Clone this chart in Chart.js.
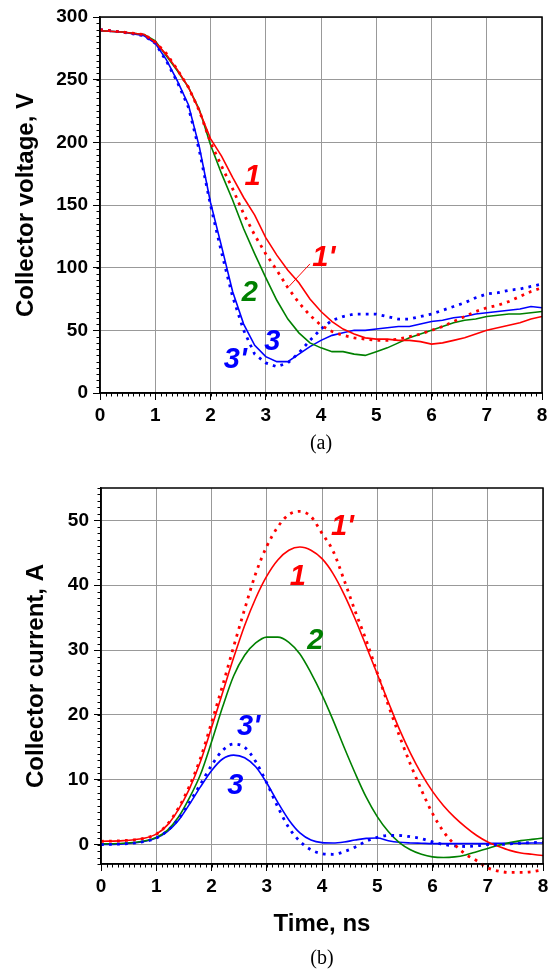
<!DOCTYPE html>
<html>
<head>
<meta charset="utf-8">
<title>Collector voltage and current</title>
<script src="https://cdn.jsdelivr.net/npm/chart.js@4.4.1/dist/chart.umd.min.js"></script>
<style>
    html, body { margin: 0; padding: 0; background: #fff; }
    #wrap { position: relative; width: 554px; height: 971px; }
    #voltChart { position: absolute; left: 0; top: 0; }
    #currChart { position: absolute; left: 0; top: 460px; }
</style>
</head>
<body>
<div id="wrap">
    <canvas id="voltChart" width="554" height="460"></canvas>
    <canvas id="currChart" width="554" height="511"></canvas>
</div>
<script>
/* =========================================================
   DATA  (time in ns, voltage in V, current in A)
========================================================= */
const timeNs = [0, 0.4, 0.8, 1.0, 1.2, 1.4, 1.6, 1.8, 2.0, 2.2, 2.4, 2.6, 2.8, 3.0,
    3.2, 3.4, 3.6, 3.8, 4.0, 4.2, 4.4, 4.6, 4.8, 5.0, 5.2, 5.4, 5.6, 5.8, 6.0,
    6.2, 6.4, 6.6, 6.8, 7.0, 7.2, 7.4, 7.6, 7.8, 8.0];

// collector voltage, panel (a)
const volt1  = [289, 288, 286, 280, 270, 258, 244, 225, 203, 189, 172, 156, 142, 124,
    110, 98, 88, 75, 65, 57, 51, 47, 44, 43, 43, 42, 42, 41, 39,
    40, 42, 44, 47, 50, 52, 54, 56, 59, 61];
const volt1p = [290, 288, 286, 280, 271, 258, 244, 225, 200, 181, 163, 143, 126, 111,
    98, 84, 72, 62, 54, 49, 46, 44, 43, 42, 42, 43, 45, 47, 50,
    53, 57, 61, 65, 68, 70, 73, 77, 81, 84];
const volt2  = [289, 288, 286, 281, 269, 257, 244, 226, 198, 175, 154, 131, 111, 92,
    74, 59, 48, 40, 36, 33, 33, 31, 30, 33, 36, 40, 44, 47, 50,
    53, 56, 58, 59, 61, 62, 63, 63, 64, 65];
const volt3  = [289, 288, 285, 279, 266, 249, 230, 196, 152, 117, 81, 55, 38, 29,
    25, 25, 31, 37, 42, 46, 48, 50, 50, 51, 52, 53, 53, 55, 57,
    58, 60, 61, 63, 64, 65, 66, 67, 69, 68];
const volt3p = [290, 288, 285, 279, 265, 248, 228, 193, 150, 112, 77, 50, 31, 24,
    21, 24, 32, 42, 51, 58, 61, 63, 63, 63, 61, 59, 59, 61, 63,
    66, 69, 72, 76, 79, 80, 82, 83, 85, 87];

// collector current, panel (b)
const curr1  = [0.5, 0.6, 1.0, 1.6, 3.0, 5.4, 8.6, 12.8, 18.0, 23.4, 28.8, 33.8, 38.0, 41.4,
    43.9, 45.4, 45.9, 45.4, 44.1, 41.8, 38.6, 34.8, 30.6, 26.3, 22.0, 17.8, 14.1, 10.9, 8.2,
    6.0, 4.2, 2.7, 1.4, 0.4, -0.3, -0.9, -1.3, -1.5, -1.7];
const curr1p = [0.5, 0.6, 1.0, 1.6, 3.1, 5.6, 9.0, 13.3, 18.8, 24.5, 30.5, 36.3, 41.8, 46.0,
    49.0, 50.9, 51.4, 50.6, 48.0, 45.3, 40.8, 36.0, 31.5, 26.5, 21.5, 16.8, 12.4, 8.4, 4.8,
    2.0, 0.0, -1.5, -2.5, -3.6, -4.1, -4.3, -4.3, -4.2, -3.9];
const curr2  = [0.1, 0.2, 0.6, 1.1, 2.2, 4.2, 7.2, 10.8, 15.8, 21.2, 26.0, 29.2, 31.1, 32.0,
    32.0, 31.2, 29.4, 26.5, 23.1, 19.2, 15.0, 11.0, 7.3, 4.3, 2.0, 0.3, -0.8, -1.5, -1.9,
    -2.0, -1.9, -1.6, -1.1, -0.6, -0.1, 0.3, 0.6, 0.8, 1.0];
const curr3  = [0.0, 0.1, 0.5, 1.0, 2.0, 3.7, 6.2, 8.9, 11.4, 13.2, 13.8, 13.4, 12.0, 9.5,
    6.5, 3.8, 1.8, 0.7, 0.3, 0.25, 0.4, 0.7, 0.95, 1.0, 0.6, 0.35, 0.25, 0.2, 0.15,
    0.15, 0.15, 0.15, 0.15, 0.15, 0.2, 0.2, 0.2, 0.25, 0.25];
const curr3p = [0.0, 0.1, 0.5, 1.0, 2.1, 3.9, 6.5, 9.3, 12.2, 14.5, 15.5, 15.0, 12.8, 9.5,
    5.8, 2.6, 0.5, -0.8, -1.4, -1.5, -1.1, -0.4, 0.5, 1.1, 1.4, 1.4, 1.2, 0.9, 0.4,
    0.0, -0.2, -0.3, -0.2, 0.0, 0.0, 0.1, 0.2, 0.3, 0.35];

const xTicks = [0, 1, 2, 3, 4, 5, 6, 7, 8];

/* =========================================================
   STYLE
========================================================= */
const RED = "#ff0000";
const GREEN = "#008000";
const BLUE = "#0000ff";
const FONT = "'Liberation Sans', Arial, sans-serif";

Chart.defaults.font.family = FONT;
Chart.defaults.color = "#000";
Chart.defaults.animation = false;

const pts = ys => timeNs.map((t, i) => ({ x: t, y: ys[i] }));

function line(ys, color, dotted, extra) {
    return Object.assign({
        data: pts(ys),
        borderColor: color,
        borderWidth: dotted ? 2.8 : 1.6,
        borderDash: dotted ? [2.8, 5.2] : [],
        borderCapStyle: "butt",
        pointRadius: 0,
        fill: false
    }, extra || {});
}

/* --- minor tick marks on both axes --- */
const minorTicks = {
    id: "minorTicks",
    afterDraw(chart, args, opts) {
        const { ctx, scales: { x, y } } = chart;
        ctx.save();
        ctx.strokeStyle = "#000";
        ctx.lineWidth = 1;
        ctx.beginPath();
        const nx = Math.round((x.max - x.min) / opts.xStep);
        for (let i = 0; i <= nx; i++) {
            const px = Math.round(x.getPixelForValue(x.min + i * opts.xStep)) + 0.5;
            ctx.moveTo(px, x.top);
            ctx.lineTo(px, x.top + opts.len);
        }
        const ny = Math.round((y.max - y.min) / opts.yStep);
        for (let i = 0; i <= ny; i++) {
            const py = Math.round(y.getPixelForValue(y.min + i * opts.yStep)) + 0.5;
            ctx.moveTo(y.right, py);
            ctx.lineTo(y.right - opts.len, py);
        }
        ctx.stroke();
        ctx.restore();
    }
};

/* --- black frame round the plot area --- */
const plotFrame = {
    id: "plotFrame",
    afterDraw(chart) {
        const { ctx, chartArea: a } = chart;
        ctx.save();
        ctx.strokeStyle = "#000";
        ctx.lineWidth = 1.5;
        ctx.strokeRect(a.left, a.top, a.right - a.left, a.bottom - a.top);
        ctx.restore();
    }
};

/* --- curve numbers and leader lines, placed in data units --- */
const curveTags = {
    id: "curveTags",
    afterDatasetsDraw(chart, args, opts) {
        const { ctx, scales: { x, y } } = chart;
        ctx.save();
        (opts.leaders || []).forEach(l => {
            ctx.strokeStyle = l.color;
            ctx.lineWidth = 1;
            ctx.beginPath();
            ctx.moveTo(x.getPixelForValue(l.x1), y.getPixelForValue(l.y1));
            ctx.lineTo(x.getPixelForValue(l.x2), y.getPixelForValue(l.y2));
            ctx.stroke();
        });
        ctx.font = "italic bold 29px " + FONT;
        ctx.textAlign = "center";
        ctx.textBaseline = "middle";
        (opts.items || []).forEach(t => {
            ctx.fillStyle = t.color;
            ctx.fillText(t.text, x.getPixelForValue(t.x), y.getPixelForValue(t.y));
        });
        ctx.restore();
    }
};

/* --- panel caption under the plot --- */
const caption = {
    id: "caption",
    afterDraw(chart, args, opts) {
        const { ctx, chartArea: a } = chart;
        ctx.save();
        ctx.font = "20px 'Liberation Serif', 'Times New Roman', serif";
        ctx.fillStyle = "#000";
        ctx.textAlign = "center";
        ctx.textBaseline = "middle";
        ctx.fillText(opts.text, (a.left + a.right) / 2, opts.y);
        ctx.restore();
    }
};

const tickFont = { size: 19, weight: "bold" };
const titleFont = { size: 24, weight: "bold" };

function xScale(height, title) {
    return {
        type: "linear",
        min: 0,
        max: 8,
        afterBuildTicks: s => { s.ticks = xTicks.map(v => ({ value: v })); },
        ticks: { padding: 4, font: tickFont },
        grid: { color: "#999", lineWidth: 1, tickColor: "#000", tickLength: 7 },
        border: { color: "#000", width: 1.5 },
        title: title || { display: false },
        afterFit: s => { s.height = height; }
    };
}

function yScale(min, max, step, width, text, titlePad) {
    return {
        type: "linear",
        min, max,
        ticks: { stepSize: step, padding: 5, font: tickFont, includeBounds: false },
        grid: { color: "#999", lineWidth: 1, tickColor: "#000", tickLength: 7 },
        border: { color: "#000", width: 1.5 },
        title: { display: true, text, font: titleFont, padding: { top: titlePad, bottom: 0 } },
        afterFit: s => { s.width = width; }
    };
}

/* =========================================================
   (a) COLLECTOR VOLTAGE
========================================================= */
new Chart(document.getElementById("voltChart"), {
    type: "line",
    data: {
        datasets: [
            line(volt1p, RED, true),
            line(volt3p, BLUE, true),
            line(volt1, RED, false),
            line(volt2, GREEN, false),
            line(volt3, BLUE, false)
        ]
    },
    options: {
        responsive: false,
        devicePixelRatio: 1,
        parsing: false,
        layout: { padding: { top: 17, right: 12, left: 0, bottom: 0 } },
        elements: { line: { tension: 0 } },
        scales: {
            x: xScale(67),
            y: yScale(0, 300, 50, 100, "Collector voltage, V", 11.5)
        },
        plugins: {
            legend: { display: false },
            tooltip: { enabled: false },
            minorTicks: { xStep: 0.1, yStep: 5, len: 3.5 },
            curveTags: {
                items: [
                    { text: "1", x: 2.76, y: 172, color: RED },
                    { text: "1'", x: 4.05, y: 108, color: RED },
                    { text: "2", x: 2.71, y: 80, color: GREEN },
                    { text: "3", x: 3.12, y: 41, color: BLUE },
                    { text: "3'", x: 2.45, y: 26, color: BLUE }
                ],
                leaders: [
                    { x1: 3.80, y1: 103, x2: 3.42, y2: 85, color: RED }
                ]
            },
            caption: { text: "(a)", y: 444 }
        }
    },
    plugins: [minorTicks, plotFrame, curveTags, caption]
});

/* =========================================================
   (b) COLLECTOR CURRENT
========================================================= */
new Chart(document.getElementById("currChart"), {
    type: "line",
    data: {
        datasets: [
            line(curr1p, RED, true, { clip: false }),
            line(curr3p, BLUE, true),
            line(curr1, RED, false),
            line(curr2, GREEN, false),
            line(curr3, BLUE, false)
        ]
    },
    options: {
        responsive: false,
        devicePixelRatio: 1,
        parsing: false,
        layout: { padding: { top: 28, right: 11, left: 0, bottom: 0 } },
        elements: { line: { cubicInterpolationMode: "monotone" } },
        scales: {
            x: xScale(107, {
                display: true,
                text: "Time, ns",
                font: titleFont,
                padding: { top: 0, bottom: 32.6 }
            }),
            y: yScale(-3, 55, 10, 101, "Collector current, A", 21.6)
        },
        plugins: {
            legend: { display: false },
            tooltip: { enabled: false },
            minorTicks: { xStep: 0.1, yStep: 1, len: 3.5 },
            curveTags: {
                items: [
                    { text: "1'", x: 4.37, y: 49, color: RED },
                    { text: "1", x: 3.56, y: 41.3, color: RED },
                    { text: "2", x: 3.88, y: 31.4, color: GREEN },
                    { text: "3'", x: 2.67, y: 18.2, color: BLUE },
                    { text: "3", x: 2.43, y: 9.0, color: BLUE }
                ]
            },
            caption: { text: "(b)", y: 499 }
        }
    },
    plugins: [minorTicks, plotFrame, curveTags, caption]
});
</script>
</body>
</html>
